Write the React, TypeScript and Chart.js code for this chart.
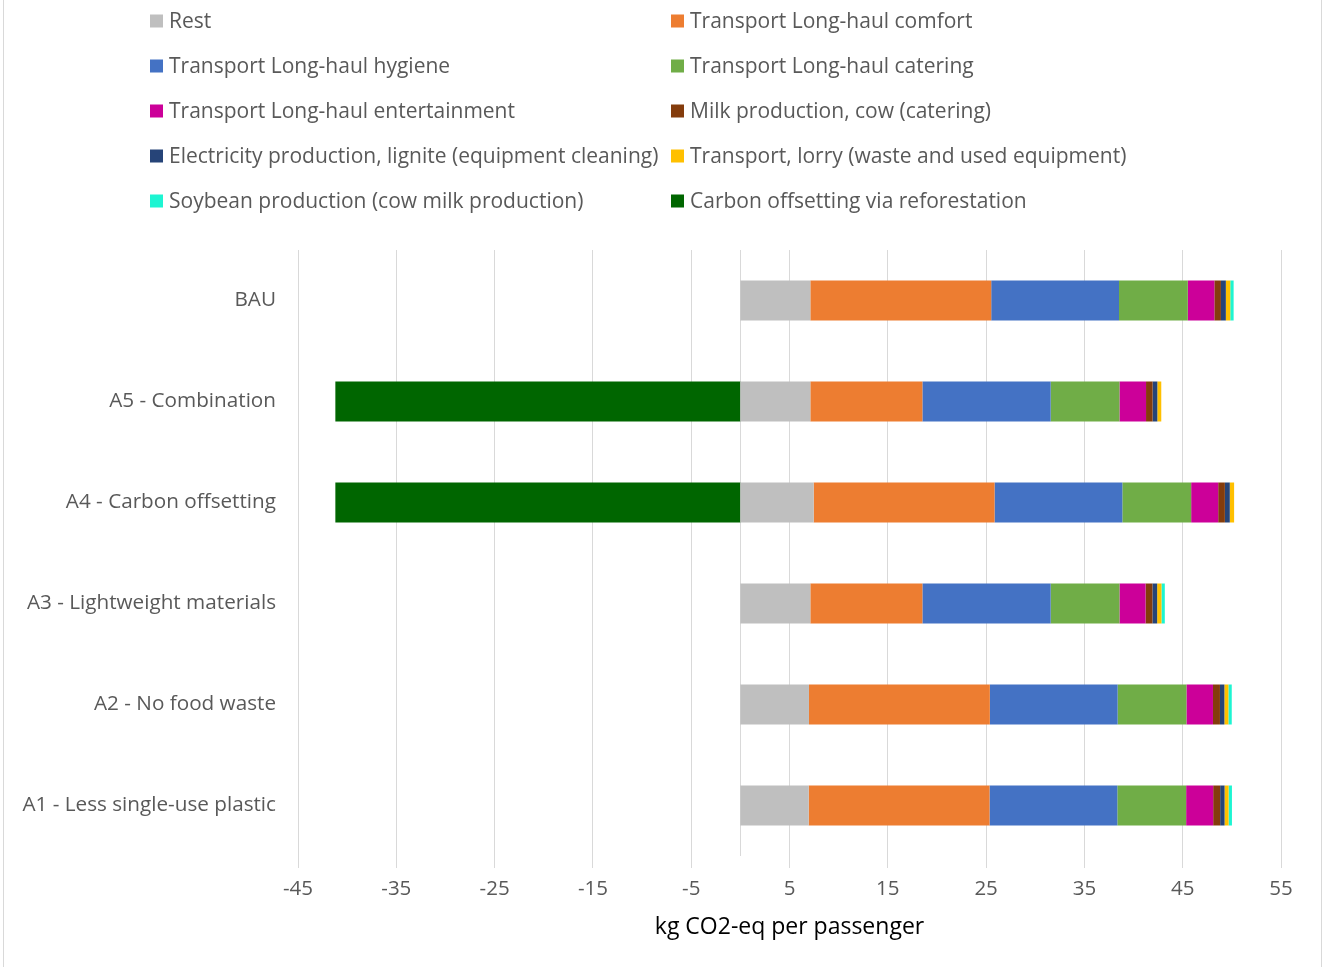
import React, { useEffect, useRef } from "react";
import { Chart, registerables } from "chart.js";

Chart.register(...registerables);

const categories = [
  "BAU",
  "A5 - Combination",
  "A4 - Carbon offsetting",
  "A3 - Lightweight materials",
  "A2 - No food waste",
  "A1 - Less single-use plastic",
];

const seriesNames = [
  "Rest",
  "Transport Long-haul comfort",
  "Transport Long-haul hygiene",
  "Transport Long-haul catering",
  "Transport Long-haul entertainment",
  "Milk production, cow (catering)",
  "Electricity production, lignite (equipment cleaning)",
  "Transport, lorry (waste and used equipment)",
  "Soybean production (cow milk production)",
  "Carbon offsetting via reforestation",
];

const seriesColors = [
  "#BFBFBF",
  "#ED7D31",
  "#4472C4",
  "#70AD47",
  "#CC0099",
  "#843C0C",
  "#264478",
  "#FFC000",
  "#1DF5D2",
  "#006600",
];

// values per category: BAU, A5, A4, A3, A2, A1
const rest = [7.12, 7.12, 7.46, 7.12, 6.98, 6.95];
const comfort = [18.4, 11.4, 18.4, 11.4, 18.4, 18.4];
const hygiene = [13.0, 13.05, 13.0, 13.05, 13.0, 13.0];
const catering = [7.0, 7.0, 7.0, 7.0, 7.0, 7.0];
const entertainment = [2.7, 2.7, 2.75, 2.65, 2.7, 2.75];
const milk = [0.67, 0.67, 0.68, 0.7, 0.71, 0.71];
const electricity = [0.5, 0.48, 0.5, 0.48, 0.45, 0.45];
const lorry = [0.45, 0.4, 0.44, 0.44, 0.41, 0.41];
const soybean = [0.34, 0, 0, 0.34, 0.34, 0.34];
const carbonOffset = [0, -41.2, -41.2, 0, 0, 0];

const xTicks = [-45, -35, -25, -15, -5, 5, 15, 25, 35, 45, 55];
const xTitle = "kg CO2-eq per passenger";

const seriesValues = [
  rest,
  comfort,
  hygiene,
  catering,
  entertainment,
  milk,
  electricity,
  lorry,
  soybean,
  carbonOffset,
];

const FONT = "'Open Sans', 'Noto Sans', sans-serif";
const TEXT = "#595959";

const legendPlugin = {
  id: "customLegend",
  afterDraw(chart: any) {
    const ctx = chart.ctx;
    ctx.save();
    ctx.font = `21px ${FONT}`;
    ctx.textBaseline = "middle";
    ctx.textAlign = "left";
    chart.data.datasets.forEach((ds: any, i: number) => {
      const col = i % 2;
      const row = Math.floor(i / 2);
      const x = col === 0 ? 150 : 671;
      const y = 21 + row * 45;
      ctx.fillStyle = ds.backgroundColor;
      ctx.fillRect(x, y - 6.5, 13, 13);
      ctx.fillStyle = TEXT;
      ctx.fillText(ds.label, x + 19, y + 1.5);
    });
    ctx.restore();
  },
};

const zeroLinePlugin = {
  id: "zeroLine",
  beforeDatasetsDraw(chart: any) {
    const { ctx, chartArea, scales } = chart;
    const x = Math.round(scales.x.getPixelForValue(0)) + 0.5;
    ctx.save();
    ctx.strokeStyle = "#D9D9D9";
    ctx.lineWidth = 1;
    ctx.beginPath();
    ctx.moveTo(x, chartArea.top);
    ctx.lineTo(x, chartArea.bottom);
    ctx.stroke();
    ctx.restore();
  },
};

export default function App() {
  const canvasRef = useRef<HTMLCanvasElement | null>(null);

  useEffect(() => {
    const canvas = canvasRef.current;
    if (!canvas) return;
    const chart = new Chart(canvas, {
      type: "bar",
      data: {
        labels: categories,
        datasets: seriesNames.map((name, i) => ({
          label: name,
          data: seriesValues[i],
          backgroundColor: seriesColors[i],
          borderWidth: 0,
          categoryPercentage: 1,
          barPercentage: 0.396,
        })),
      },
      options: {
        indexAxis: "y",
        responsive: false,
        animation: false,
        layout: { padding: { top: 250, right: 46, left: 0, bottom: 0 } },
        plugins: {
          legend: { display: false },
          tooltip: { enabled: false },
        },
        scales: {
          x: {
            type: "linear",
            stacked: true,
            min: -45,
            max: 55,
            afterBuildTicks: (scale: any) => {
              scale.ticks = xTicks.map((v) => ({ value: v }));
            },
            afterFit: (scale: any) => {
              scale.height = 111;
            },
            grid: {
              color: "#D9D9D9",
              lineWidth: 1,
              drawTicks: true,
              tickLength: 12,
            },
            border: { display: false },
            ticks: {
              color: TEXT,
              font: { family: FONT, size: 20.5 },
              padding: 9,
              maxRotation: 0,
              autoSkip: false,
            },
            title: {
              display: true,
              text: xTitle,
              color: "#000000",
              font: { family: FONT, size: 23 },
              padding: { top: 0, bottom: 25.5 },
            },
          },
          y: {
            stacked: true,
            afterFit: (scale: any) => {
              scale.width = 298;
            },
            grid: { display: false, drawTicks: false },
            border: { display: false },
            ticks: {
              color: TEXT,
              font: { family: FONT, size: 20.7 },
              padding: 22,
            },
          },
        },
      },
      plugins: [legendPlugin, zeroLinePlugin],
    });
    return () => chart.destroy();
  }, []);

  return (
    <div
      style={{
        position: "fixed",
        left: 0,
        top: 0,
        width: 1327,
        height: 967,
        background: "#ffffff",
        overflow: "hidden",
      }}
    >
      <div
        style={{
          position: "absolute",
          left: 3,
          top: -2,
          width: 1319,
          height: 971,
          border: "1px solid #D9D9D9",
          boxSizing: "border-box",
        }}
      />
      <canvas
        ref={canvasRef}
        width={1327}
        height={967}
        style={{ position: "absolute", left: 0, top: 0 }}
      />
    </div>
  );
}
